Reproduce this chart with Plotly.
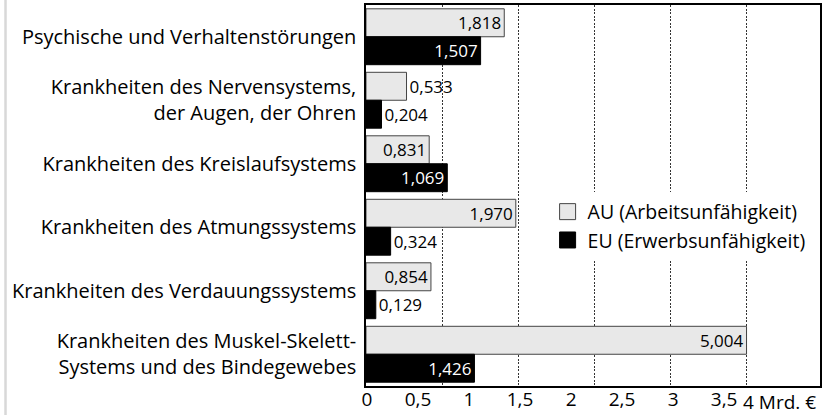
import plotly.graph_objects as go

categories = [
    "Psychische und Verhaltenstörungen",
    "Krankheiten des Nervensystems,<br>der Augen, der Ohren",
    "Krankheiten des Kreislaufsystems",
    "Krankheiten des Atmungssystems",
    "Krankheiten des Verdauungssystems",
    "Krankheiten des Muskel-Skelett-<br>Systems und des Bindegewebes",
]
au_values = [1.818, 0.533, 0.831, 1.970, 0.854, 5.004]
eu_values = [1.507, 0.204, 1.069, 0.324, 0.129, 1.426]
series_names = ["AU (Arbeitsunfähigkeit)", "EU (Erwerbsunfähigkeit)"]
tick_labels = ["0", "0,5", "1", "1,5", "2", "2,5", "3", "3,5"]
tick_values = [0, 0.5, 1, 1.5, 2, 2.5, 3, 3.5]
unit_label = "4 Mrd. €"

FONT = "Open Sans"
AU_FILL, AU_LINE = "#e8e8e8", "#444444"
EU_FILL = "black"


def fmt(v):
    return f"{v:.3f}".replace(".", ",")


def positions(vals):
    return ["inside" if v >= 0.8 else "outside" for v in vals]


fig = go.Figure()
fig.add_trace(go.Bar(
    name=series_names[0], showlegend=False,
    y=categories, x=au_values, orientation="h",
    marker=dict(color=AU_FILL, line=dict(color=AU_LINE, width=1)),
    text=[fmt(v) for v in au_values],
    textposition=positions(au_values),
    textfont=dict(color="black", size=17, family=FONT),
    insidetextanchor="end",
    constraintext="none",
    cliponaxis=False,
    xaxis="x", yaxis="y",
))
fig.add_trace(go.Bar(
    name=series_names[1], showlegend=False,
    y=categories, x=eu_values, orientation="h",
    marker=dict(color=EU_FILL, line=dict(color=EU_FILL, width=1)),
    text=[fmt(v) for v in eu_values],
    textposition=positions(eu_values),
    textfont=dict(color=["white" if p == "inside" else "black" for p in positions(eu_values)],
                  size=17, family=FONT),
    insidetextanchor="end",
    constraintext="none",
    cliponaxis=False,
    xaxis="x", yaxis="y",
))
# legend entries with larger square swatches
for name, fill, line in [(series_names[0], AU_FILL, AU_LINE), (series_names[1], EU_FILL, EU_FILL)]:
    fig.add_trace(go.Scatter(
        x=[None], y=[None], mode="markers", name=name,
        marker=dict(symbol="square", size=16, color=fill, line=dict(color=line, width=1)),
        hoverinfo="skip",
    ))
# invisible trace to carry the second (label) axis
fig.add_trace(go.Scatter(x=[0], y=[categories[0]], xaxis="x2", yaxis="y",
                         mode="markers", marker=dict(opacity=0),
                         showlegend=False, hoverinfo="skip"))

fig.update_layout(
    width=822, height=415,
    margin=dict(l=366, r=2, t=5, b=29, autoexpand=False),
    paper_bgcolor="white", plot_bgcolor="white",
    font=dict(family=FONT, color="black", size=19),
    barmode="group",
    bargap=0.12, bargroupgap=0,
    showlegend=True,
    legend=dict(
        x=0.40, y=0.508, xanchor="left", yanchor="top",
        bgcolor="white", borderwidth=0,
        font=dict(size=19.5, family=FONT, color="black"),
        traceorder="normal",
        itemwidth=30,
    ),
    xaxis=dict(
        range=[0, 5.97], dtick=1, tick0=0,
        showgrid=True, gridcolor="#333333", griddash="2px,1.5px", gridwidth=1,
        showticklabels=False, ticks="",
        showline=True, linecolor="black", linewidth=1.5, mirror=True,
        zeroline=False, automargin=False,
    ),
    xaxis2=dict(
        overlaying="x", side="bottom", anchor="y",
        range=[-0.01, 4.44],
        tickvals=tick_values, ticktext=tick_labels,
        showgrid=False, zeroline=False, showline=False, ticks="",
        tickfont=dict(size=19, family=FONT, color="black"),
        automargin=False,
    ),
    yaxis=dict(
        autorange="reversed",
        showgrid=False, ticks="", ticklabelstandoff=4,
        tickfont=dict(size=20, family=FONT, color="black"),
        showline=True, linecolor="black", linewidth=1.5, mirror=True,
        automargin=False,
    ),
    shapes=[dict(type="line", xref="paper", yref="paper",
                 x0=-0.794, x1=-0.794, y0=-0.08, y1=1.02,
                 line=dict(color="#d8d8d8", width=2.5))],
    annotations=[dict(text=unit_label, xref="paper", yref="paper",
                      x=0.826, y=0, xanchor="left", yanchor="top", yshift=-1,
                      showarrow=False, font=dict(size=19, family=FONT, color="black"))],
)

fig.write_html("out.html", config={"displayModeBar": False},
               post_script="document.body.style.margin='0';document.body.style.overflow='hidden';")
